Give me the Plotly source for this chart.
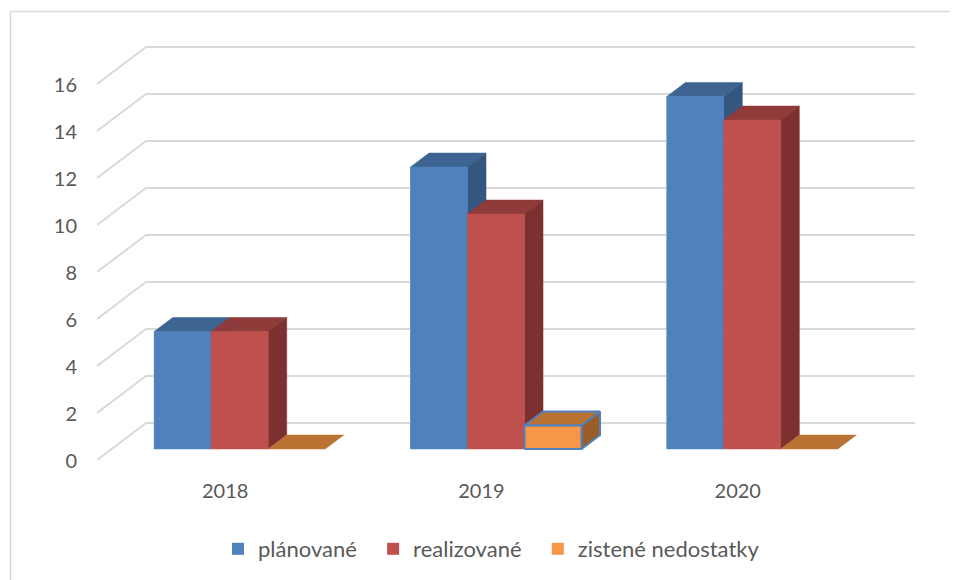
import plotly.graph_objects as go

categories = ["2018", "2019", "2020"]
planned = [5, 12, 15]
realized = [5, 10, 14]
issues = [0, 1, 0]
series_names = ["plánované", "realizované", "zistené nedostatky"]
y_ticks = [0, 2, 4, 6, 8, 10, 12, 14, 16]

FRONT = ["#4F81BD", "#C0504D", "#F79646"]
TOP = ["#3E6591", "#8F3B39", "#BA7233"]
SIDE = ["#34567F", "#7C3030", "#9A5D2A"]
GRID = "#D9D9D9"
TEXT = "#595959"
FONT = "Lato"

PAGE_X, PAGE_Y = 7, 8  # offset of the figure inside the written page
W, H = 950, 572
L, R, T, B = 96 - PAGE_X, 42, 30 - PAGE_Y, 120
PX_PER_CAT = 256.3
PX_PER_UNIT = 23.5
WALL_DX = 49 / PX_PER_CAT
WALL_DY = 37 / PX_PER_UNIT
BAR_FRONT = 0.297
BAR_DEPTH = 0.378
BAR_W = 57 / PX_PER_CAT
x0 = -0.5
x_span = (W - L - R) / PX_PER_CAT
y_span = (H - T - B) / PX_PER_UNIT

values = [planned, realized, issues]
fig = go.Figure()
base_y = BAR_FRONT * WALL_DY

# real bars: front faces and legend
for s, name in enumerate(series_names):
    fig.add_trace(go.Bar(
        x=[i + BAR_FRONT * WALL_DX + (s - 1) * BAR_W for i in range(len(categories))],
        y=values[s], base=base_y, width=BAR_W,
        name=name + ("\u00a0\u00a0" if s < 2 else ""),
        marker=dict(color=FRONT[s], line=dict(width=0)),
    ))


def poly(xs, ys, color, line=None):
    fig.add_trace(go.Scatter(
        x=xs + xs[:1], y=ys + ys[:1], mode="lines", fill="toself", fillcolor=color,
        line=dict(color=line or color, width=2 if line else 0.5),
        showlegend=False, hoverinfo="skip",
    ))


# back wall gridlines
for v in y_ticks:
    fig.add_trace(go.Scatter(
        x=[x0, x0 + WALL_DX, x0 + WALL_DX + 3], y=[v, v + WALL_DY, v + WALL_DY],
        mode="lines", line=dict(color=GRID, width=2), showlegend=False, hoverinfo="skip",
    ))

ddx = BAR_DEPTH * WALL_DX
ddy = BAR_DEPTH * WALL_DY
for i in range(len(categories)):
    for s in range(3):
        v = values[s][i]
        xl = i + BAR_FRONT * WALL_DX + (s - 1) * BAR_W - BAR_W / 2
        xr = xl + BAR_W
        yb, yt = base_y, base_y + v
        border = "#4F81BD" if s == 2 and v > 0 else None
        poly([xl, xr, xr + ddx, xl + ddx], [yt, yt, yt + ddy, yt + ddy], TOP[s], border)
        if v > 0:
            poly([xr, xr + ddx, xr + ddx, xr], [yb, yb + ddy, yt + ddy, yt], SIDE[s], border)
            poly([xl, xr, xr, xl], [yb, yb, yt, yt], FRONT[s], border)

px = lambda p: (p - PAGE_X - L) / (W - L - R)
py = lambda p: 1 - (p - PAGE_Y - T) / (H - T - B)

fig.update_layout(
    width=W, height=H, margin=dict(l=L, r=R, t=T, b=B),
    paper_bgcolor="white", plot_bgcolor="white", barmode="overlay",
    font=dict(family=FONT, size=20, color=TEXT), hovermode=False,
    xaxis=dict(range=[x0, x0 + x_span], tickvals=list(range(len(categories))), ticktext=categories,
               ticks="outside", ticklen=13, tickcolor="rgba(0,0,0,0)", showgrid=False,
               zeroline=False, showline=False, fixedrange=True),
    yaxis=dict(range=[0, y_span], tickvals=y_ticks, ticks="outside", ticklen=15, ticklabelshift=1,
               tickcolor="rgba(0,0,0,0)", showgrid=False, zeroline=False, showline=False, fixedrange=True),
    legend=dict(orientation="h", xref="container", yref="container",
                x=(217 - PAGE_X) / W, y=1 - (528 - PAGE_Y) / H, xanchor="left", yanchor="top",
                font=dict(size=22, color=TEXT), bgcolor="rgba(0,0,0,0)"),
    shapes=[dict(type="path", xref="paper", yref="paper",
                 path=f"M{px(9.5)},{py(580)} L{px(9.5)},{py(11.5)} L{px(958)},{py(11.5)}",
                 line=dict(color=GRID, width=1.5))],
)

fig.write_html("out.html")
